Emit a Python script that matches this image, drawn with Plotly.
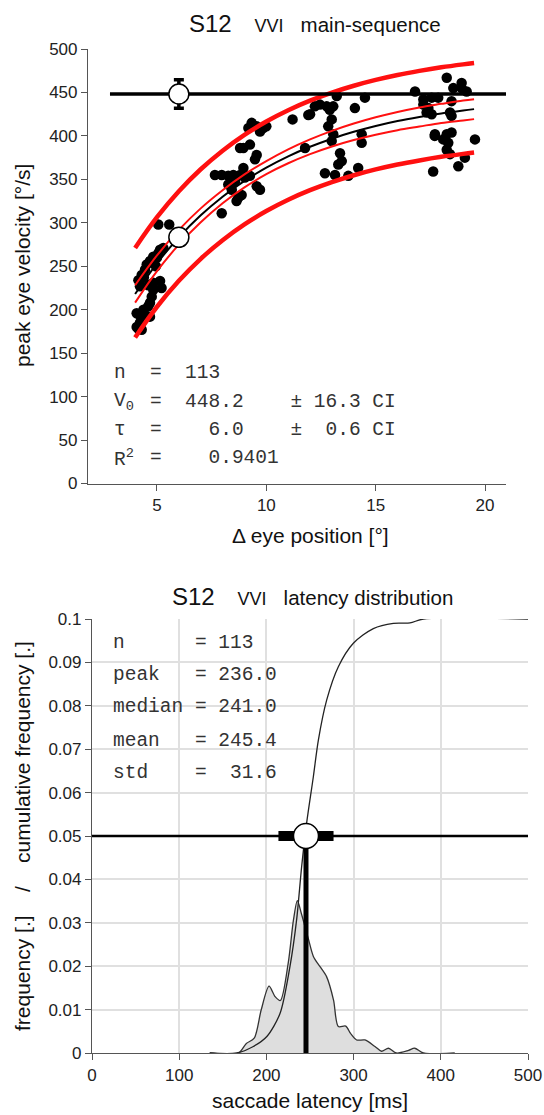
import plotly.graph_objects as go

W, H = 544, 1115
NB = "\u00a0"

# ---------------- top panel: main sequence ----------------
amp = [4.07, 4.15, 4.30, 4.22, 4.07, 4.20, 4.38, 4.45, 4.60, 4.68, 4.68, 4.76, 4.83, 4.60, 4.83, 5.14,
       5.21, 4.15, 4.22, 4.30, 4.45, 4.53, 4.68, 4.83, 5.06, 5.29, 5.14, 5.00, 5.06, 5.56, 4.95, 4.40,
       9.33, 9.18, 9.56, 9.86, 10.0, 9.71, 9.25, 8.95, 8.80, 9.56, 9.48, 8.95, 7.65, 7.96, 8.26, 8.49,
       8.80, 9.02, 9.25, 9.56, 9.71, 8.57, 8.26, 8.42, 8.87, 8.72, 8.64, 7.96,
       11.2, 11.92, 12.0, 12.22, 12.45, 12.76, 13.06, 13.22, 14.51, 14.05, 12.99, 12.83, 13.06, 12.99,
       14.36, 14.36, 11.77, 13.37, 13.45, 13.29, 12.68, 13.14, 13.75, 14.2, 12.9,
       18.25, 18.93, 18.55, 19.16, 16.8, 18.93, 17.18, 17.56, 17.86, 18.47, 17.18, 17.41, 17.33, 17.56,
       18.4, 18.47, 17.71, 18.25, 18.47, 18.09, 19.54, 18.32, 18.25, 18.4, 19.08, 18.78, 17.63, 17.7]
vel = [180, 178, 177, 185, 196, 194, 200, 194, 204, 192, 208, 215, 223, 228, 231, 233,
       225, 234, 227, 240, 246, 252, 256, 261, 265, 271, 269, 260, 298, 298, 250, 237,
       415, 409, 411, 409, 411, 405, 390, 386, 386, 378, 373, 363, 355, 355, 354, 355,
       355, 352, 354, 342, 338, 348, 344, 338, 332, 329, 325, 311,
       419, 424, 425, 434, 436, 434, 434, 446, 444, 432, 419, 411, 402, 394,
       402, 392, 386, 380, 371, 367, 357, 355, 354, 363, 430,
       467, 461, 455, 451, 451, 455, 442, 444, 444, 440, 436, 432, 427, 425,
       427, 423, 402, 402, 404, 396, 396, 392, 384, 379, 375, 365, 359, 400]

fit_x = [4, 5, 6, 7, 8, 9, 10, 11, 12, 13, 14, 15, 16, 17, 18, 19, 19.5]
fit_v = [218.1, 253.4, 283.3, 308.6, 330.0, 348.2, 363.5, 376.5, 387.5, 396.8, 404.7, 411.4,
         417.1, 421.8, 425.9, 429.3, 430.8]
ci_hi = [228.1, 262.4, 291.8, 316.6, 337.5, 355.7, 371.0, 384.5, 396.0, 405.8, 414.2, 421.4,
         427.6, 432.8, 436.9, 440.8, 442.3]
ci_lo = [208.1, 244.4, 274.8, 300.6, 322.5, 340.7, 356.0, 368.5, 379.0, 387.8, 395.2, 401.4,
         406.6, 410.8, 414.9, 417.8, 419.3]
pi_hi = [271.1, 306.4, 336.3, 361.6, 383.0, 401.2, 416.5, 429.5, 440.5, 449.8, 457.7, 464.4,
         470.1, 474.8, 478.9, 482.3, 483.8]
pi_lo = [168.1, 203.4, 233.3, 258.6, 280.0, 298.2, 313.5, 326.5, 337.5, 346.8, 354.7, 361.4,
         367.1, 371.8, 375.9, 379.3, 380.8]

n_sacc = 113
V0, V0_ci = 448.2, 16.3
tau, tau_ci = 6.0, 0.6
r2 = 0.9401
v_at_tau = 283.3
v0_line_x = [2.85, 20.96]

top_xticks = [5, 10, 15, 20]
top_yticks = [0, 50, 100, 150, 200, 250, 300, 350, 400, 450, 500]

# ---------------- bottom panel: latency distribution ----------------
lat_x = [135, 168, 177, 186, 194, 203, 210, 216, 225, 231, 235.5, 240, 248, 254, 261.5, 269, 277,
         282.5, 291, 296.5, 303.5, 313, 324.5, 332, 340, 349, 363, 370, 380, 416]
lat_dens = [0, 0, 0.0022, 0.0034, 0.0099, 0.0154, 0.0130, 0.0121, 0.0207, 0.0306, 0.0351, 0.0322,
            0.0264, 0.0222, 0.0199, 0.0176, 0.0122, 0.0061, 0.0062, 0.0045, 0.0030, 0.0030, 0.0015,
            0.0004, 0.0011, 0, 0.0006, 0.0011, 0, 0]
cum_x = [135, 166, 185, 200.5, 215.6, 227, 234.6, 240.4, 246.1, 253.8, 259.6, 269.1, 282.5, 299.7,
         322.6, 345.6, 364.7, 380, 500]
cum_y = [0, 0, 0.0015, 0.0038, 0.0091, 0.0199, 0.0306, 0.0429, 0.0529, 0.0636, 0.0721, 0.0813,
         0.0890, 0.0944, 0.0978, 0.0990, 0.0991, 0.1, 0.1]

lat_stats_names = ["n", "peak", "median", "mean", "std"]
lat_stats_vals = ["113", "236.0", "241.0", "245.4", " 31.6"]
lat_mean, lat_std = 245.4, 31.6
half_level = 0.05

bot_xticks = [0, 100, 200, 300, 400, 500]
bot_yticks = [0, 0.01, 0.02, 0.03, 0.04, 0.05, 0.06, 0.07, 0.08, 0.09, 0.1]
bot_yticklabels = ["0", "0.01", "0.02", "0.03", "0.04", "0.05", "0.06", "0.07", "0.08", "0.09", "0.1"]

SANS = "Liberation Sans, Arial, sans-serif"
MONO = "Liberation Mono, Courier New, monospace"
RED = "#ff1010"

fig = go.Figure()

# top traces
fig.add_trace(go.Scatter(x=amp, y=vel, mode="markers", xaxis="x", yaxis="y",
                         marker=dict(color="black", size=10.5, line=dict(width=0))))
for band, wdt in [(pi_hi, 4.5), (pi_lo, 4.5), (ci_hi, 2), (ci_lo, 2)]:
    fig.add_trace(go.Scatter(x=fit_x, y=band, mode="lines", xaxis="x", yaxis="y",
                             line=dict(color=RED, width=wdt, shape="spline")))
fig.add_trace(go.Scatter(x=fit_x, y=fit_v, mode="lines", xaxis="x", yaxis="y",
                         line=dict(color="black", width=2, shape="spline")))
fig.add_trace(go.Scatter(x=v0_line_x, y=[V0, V0], mode="lines", xaxis="x", yaxis="y",
                         line=dict(color="black", width=3.5)))
fig.add_trace(go.Scatter(x=[tau], y=[V0], mode="markers", xaxis="x", yaxis="y",
                         error_y=dict(type="data", array=[V0_ci], color="black", thickness=3.5, width=5),
                         marker=dict(color="white", size=20, line=dict(color="black", width=1.5))))
fig.add_trace(go.Scatter(x=[tau], y=[v_at_tau], mode="markers", xaxis="x", yaxis="y",
                         marker=dict(color="white", size=20, line=dict(color="black", width=1.5))))

# bottom traces
fig.add_trace(go.Scatter(x=lat_x, y=lat_dens, mode="lines", xaxis="x2", yaxis="y2", fill="tozeroy",
                         fillcolor="#dedede",
                         line=dict(color="#333333", width=1.3, shape="spline", smoothing=0.8)))
fig.add_trace(go.Scatter(x=cum_x, y=cum_y, mode="lines", xaxis="x2", yaxis="y2",
                         line=dict(color="#222222", width=1.3, shape="spline", smoothing=0.8)))
fig.add_trace(go.Scatter(x=[0, 500], y=[half_level, half_level], mode="lines", xaxis="x2", yaxis="y2",
                         line=dict(color="black", width=2.5)))
fig.add_trace(go.Scatter(x=[lat_mean, lat_mean], y=[0, half_level], mode="lines", xaxis="x2", yaxis="y2",
                         line=dict(color="black", width=5)))
fig.add_trace(go.Scatter(x=[lat_mean - lat_std, lat_mean + lat_std], y=[half_level, half_level],
                         mode="lines", xaxis="x2", yaxis="y2", line=dict(color="black", width=10)))
fig.add_trace(go.Scatter(x=[lat_mean], y=[half_level], mode="markers", xaxis="x2", yaxis="y2",
                         marker=dict(color="white", size=25, line=dict(color="black", width=1.5))))

tickfont = dict(family=SANS, size=17, color="#222222")
axline = dict(showline=True, linecolor="#555555", linewidth=1.2, ticks="outside", ticklen=6,
              tickcolor="#555555", tickwidth=1.2, zeroline=False, tickfont=tickfont,
              automargin=False)

fig.update_layout(
    width=W, height=H, autosize=False, showlegend=False,
    margin=dict(l=0, r=0, t=0, b=0, pad=0),
    paper_bgcolor="white", plot_bgcolor="white",
    xaxis=dict(domain=[88 / W, 506 / W], range=[1.845, 20.96], tickvals=top_xticks,
               showgrid=False, anchor="y", **axline),
    yaxis=dict(domain=[1 - 483.5 / H, 1 - 49 / H], range=[0, 500], tickvals=top_yticks,
               showgrid=False, anchor="x", **axline),
    xaxis2=dict(domain=[92 / W, 528 / W], range=[0, 500], tickvals=bot_xticks,
                showgrid=True, gridcolor="#e0e0e0", gridwidth=1.5, anchor="y2", **axline),
    yaxis2=dict(domain=[1 - 1053 / H, 1 - 619 / H], range=[0, 0.1], tickvals=bot_yticks,
                ticktext=bot_yticklabels, showgrid=True, gridcolor="#e0e0e0", gridwidth=1.5,
                anchor="x2", **axline),
)

ann = []


def px(xp, yp, text, size, family=SANS, xanchor="center", yanchor="middle", angle=0, color="#111111"):
    ann.append(dict(x=xp / W, y=1 - yp / H, xref="paper", yref="paper", text=text, showarrow=False,
                    xanchor=xanchor, yanchor=yanchor, textangle=angle,
                    font=dict(family=family, size=size, color=color)))


def title_html(rest):
    return ("<span style='font-size:24px'>S12</span>" + NB * 4 +
            "<span style='font-size:18px'>VVI</span>" + NB * 3 + rest)


px(315, 24, title_html("main-sequence"), 20.5)
px(312, 597, title_html("latency distribution"), 20.5)

px(22, 266, "peak eye velocity [°/s]", 21, angle=-90)
px(310, 535, "Δ eye position [°]", 21)
px(22, 836, "frequency [.]" + NB * 4 + "/" + NB * 4 + "cumulative frequency [.]", 21, angle=-90)
px(310, 1100, "saccade latency [ms]", 21)

# stats text (top)
top_labels = ["n", "V<sub>0</sub>", "τ", "R<sup>2</sup>"]
top_rest = [
    "=" + NB * 2 + f"{n_sacc}",
    "=" + NB * 2 + f"{V0:.1f}" + NB * 4 + "±" + NB + f"{V0_ci:.1f}" + NB + "CI",
    "=" + NB * 4 + f"{tau:.1f}" + NB * 4 + "±" + NB * 2 + f"{tau_ci:.1f}" + NB + "CI",
    "=" + NB * 4 + f"{r2:.4f}",
]
row_y = [373, 402, 430, 458]
for lab, rest, yy in zip(top_labels, top_rest, row_y):
    px(112, yy, lab, 19.5, family=MONO, xanchor="left", color="#333333")
    px(147.5, yy, rest, 19.5, family=MONO, xanchor="left", color="#333333")

# stats text (bottom)
bot_y = [643, 675, 707, 741, 773]
for nm, vv, yy in zip(lat_stats_names, lat_stats_vals, bot_y):
    txt = nm.ljust(7, NB) + "=" + NB + vv.replace(" ", NB)
    px(111, yy, txt, 19.5, family=MONO, xanchor="left", color="#333333")

fig.update_layout(annotations=ann)
fig.write_html("out.html", config={"displayModeBar": False},
               post_script="document.body.style.margin='0px';document.body.style.overflow='hidden';")
